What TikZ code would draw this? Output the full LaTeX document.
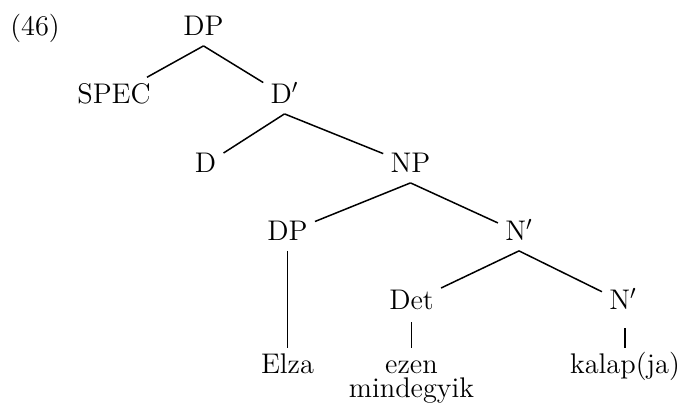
\documentclass[tikz,border=0pt]{standalone}
\usepackage{fontspec}
\begin{document}
\begin{tikzpicture}[x=0.5pt,y=-0.5pt,
  lbl/.style={font=\fontsize{14.2}{16}\selectfont, inner sep=3.5pt, text height=9.4pt, text depth=1.5pt, anchor=base},
  leaf/.style={font=\fontsize{14.2}{16}\selectfont, inner xsep=3.5pt, inner ysep=0pt, text height=12.9pt, text depth=0pt, anchor=base},
  plain/.style={font=\fontsize{14.2}{16}\selectfont, inner sep=0pt, anchor=base},
  edge/.style={line width=0.75pt}]
\useasboundingbox (0,0) rectangle (681,405);
\node[plain] (ex) at (35,36) {(46)};
\node[lbl] (top) at (203.5,35.5) {DP};
\node[lbl] (spec) at (114,103.5) {SPEC};
\node[lbl] (dbar) at (284.5,103.5) {D$'$};
\node[lbl] (d) at (205.5,172.5) {D};
\node[lbl] (np) at (410.5,172.5) {NP};
\node[lbl] (dp) at (287.5,240.5) {DP};
\node[lbl] (nbar) at (519,240.5) {N$'$};
\node[lbl] (det) at (411.5,310) {Det};
\node[lbl] (nbarb) at (623,310) {N$'$};
\node[leaf] (elza) at (287.5,374) {Elza};
\node[leaf] (ezen) at (411.5,374) {ezen};
\node[plain] (mind) at (411.5,398) {mindegyik};
\node[leaf] (kalap) at (625,374) {kalap(ja)};
\draw[edge] (top.south) -- (spec);
\draw[edge] (top.south) -- (dbar);
\draw[edge] (dbar.south) -- (d);
\draw[edge] (dbar.south) -- (np);
\draw[edge] (np.south) -- (dp);
\draw[edge] (np.south) -- (nbar);
\draw[edge] (nbar.south) -- (det);
\draw[edge] (nbar.south) -- (nbarb);
\draw[edge] (dp.south) -- (elza.north);
\draw[edge, shorten <=1pt] (det.south) -- (ezen.north);
\draw[edge, shorten <=4pt] (kalap.north |- nbarb.south) -- (kalap.north);
\end{tikzpicture}
\end{document}
